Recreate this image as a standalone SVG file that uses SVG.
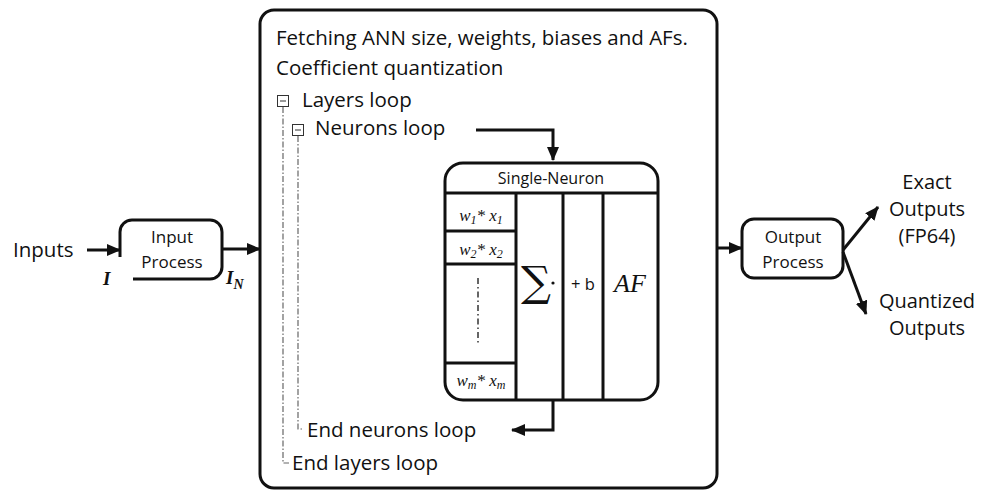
<svg xmlns="http://www.w3.org/2000/svg" width="989" height="491" viewBox="0 0 989 491">
<defs>
<marker id="ah" markerUnits="userSpaceOnUse" markerWidth="14" markerHeight="12" refX="13" refY="6" orient="auto">
<path d="M0,0 L14,6 L0,12 Z" fill="#111"/>
</marker>
<style>
.t{font-family:"Open Sans","Noto Sans","Liberation Sans",sans-serif;fill:#111}
.s{fill:none;stroke:#111;stroke-width:3}
.c{fill:none;stroke:#111;stroke-width:3}
.dd{fill:none;stroke:#666;stroke-width:1.2;stroke-dasharray:6 2 1.5 2}
.m{font-family:"Liberation Serif","DejaVu Serif",serif;font-style:italic;fill:#111}
.b{font-family:"Liberation Serif","DejaVu Serif",serif;font-style:italic;font-weight:bold;fill:#111}
.sq{fill:#fff;stroke:#333;stroke-width:1}
</style>
</defs>
<rect width="989" height="491" fill="#fff"/>

<g id="inputs-label"><text class="t" x="13" y="257" font-size="20.5">Inputs</text></g>

<g id="input-process">
<path class="s" d="M120,257 V232 A12,12 0 0 1 132,220 H210 A12,12 0 0 1 222,232 V267 A12,12 0 0 1 210,279 H133"/>
<text class="t" x="172" y="243" font-size="17" text-anchor="middle">Input</text>
<text class="t" x="172" y="268" font-size="17" text-anchor="middle">Process</text>
<text class="b" x="103" y="285" font-size="19">I</text>
<text class="b" x="226" y="284" font-size="19">I<tspan font-size="14" dy="5">N</tspan></text>
</g>

<g id="main-block">
<rect class="s" x="260" y="10" width="457" height="478" rx="14"/>
<text class="t" x="276" y="45" font-size="20.5">Fetching ANN size, weights, biases and AFs.</text>
<text class="t" x="276" y="75" font-size="20.5">Coefficient quantization</text>
<rect class="sq" x="277.5" y="95.5" width="11" height="11"/>
<line x1="280" y1="101" x2="286" y2="101" stroke="#333" stroke-width="1"/>
<text class="t" x="302" y="107" font-size="20.5">Layers loop</text>
<rect class="sq" x="292.5" y="124.5" width="11" height="11"/>
<line x1="295" y1="130" x2="301" y2="130" stroke="#333" stroke-width="1"/>
<text class="t" x="315" y="135" font-size="20.5">Neurons loop</text>
<path class="dd" d="M283,107 V463 H289"/>
<path class="dd" d="M298,136 V429 H304"/>
<text class="t" x="307" y="437" font-size="20.5">End neurons loop</text>
<text class="t" x="292" y="470" font-size="20.5">End layers loop</text>
</g>

<g id="single-neuron">
<rect class="s" x="445" y="163" width="213" height="237" rx="18"/>
<line class="s" x1="445" y1="193" x2="658" y2="193"/>
<text class="t" x="551" y="184" font-size="16" text-anchor="middle">Single-Neuron</text>
<line class="s" x1="516" y1="193" x2="516" y2="400"/>
<line class="s" x1="563" y1="193" x2="563" y2="400"/>
<line class="s" x1="603" y1="193" x2="603" y2="400"/>
<line class="s" x1="445" y1="231" x2="516" y2="231"/>
<line class="s" x1="445" y1="264" x2="516" y2="264"/>
<line class="s" x1="445" y1="363" x2="516" y2="363"/>
<text class="m" x="481" y="221" font-size="17" text-anchor="middle">w<tspan font-size="12" dy="3">1</tspan><tspan dy="-3">* x</tspan><tspan font-size="12" dy="3">1</tspan></text>
<text class="m" x="481" y="255" font-size="17" text-anchor="middle">w<tspan font-size="12" dy="3">2</tspan><tspan dy="-3">* x</tspan><tspan font-size="12" dy="3">2</tspan></text>
<text class="m" x="481" y="386" font-size="17" text-anchor="middle">w<tspan font-size="12" dy="3">m</tspan><tspan dy="-3">* x</tspan><tspan font-size="12" dy="3">m</tspan></text>
<line x1="478" y1="278" x2="478" y2="343" stroke="#333" stroke-width="1.5" stroke-dasharray="6 3 1.5 3"/>
<text x="521" y="296" font-size="42" font-family="'DejaVu Serif','Liberation Serif',serif" fill="#111">∑</text>
<circle cx="553" cy="283" r="1.6" fill="#111"/>
<text class="t" x="583" y="290" font-size="16.5" text-anchor="middle">+ b</text>
<text class="m" x="630" y="292" font-size="26" text-anchor="middle">AF</text>
</g>

<g id="output-process">
<rect class="s" x="742" y="219" width="101" height="59" rx="12"/>
<text class="t" x="793" y="243" font-size="17" text-anchor="middle">Output</text>
<text class="t" x="793" y="268" font-size="17" text-anchor="middle">Process</text>
</g>

<g id="exact-outputs">
<text class="t" x="927" y="189" font-size="20" text-anchor="middle">Exact</text>
<text class="t" x="927" y="216" font-size="20" text-anchor="middle">Outputs</text>
<text class="t" x="927" y="243" font-size="20" text-anchor="middle">(FP64)</text>
</g>
<g id="quantized-outputs">
<text class="t" x="927" y="308" font-size="20" text-anchor="middle">Quantized</text>
<text class="t" x="927" y="335" font-size="20" text-anchor="middle">Outputs</text>
</g>

<g id="connectors">
<line class="c" x1="87" y1="250" x2="120" y2="250" marker-end="url(#ah)"/>
<line class="c" x1="222" y1="249" x2="260" y2="249" marker-end="url(#ah)"/>
<line class="c" x1="717" y1="248" x2="742" y2="248" marker-end="url(#ah)"/>
<line class="c" x1="843" y1="250" x2="878" y2="207" marker-end="url(#ah)"/>
<line class="c" x1="843" y1="252" x2="866" y2="314" marker-end="url(#ah)"/>
<polyline class="c" points="476,130 553,130 553,160" marker-end="url(#ah)"/>
<polyline class="c" points="553,400 553,430 512,430" marker-end="url(#ah)"/>
</g>
</svg>
